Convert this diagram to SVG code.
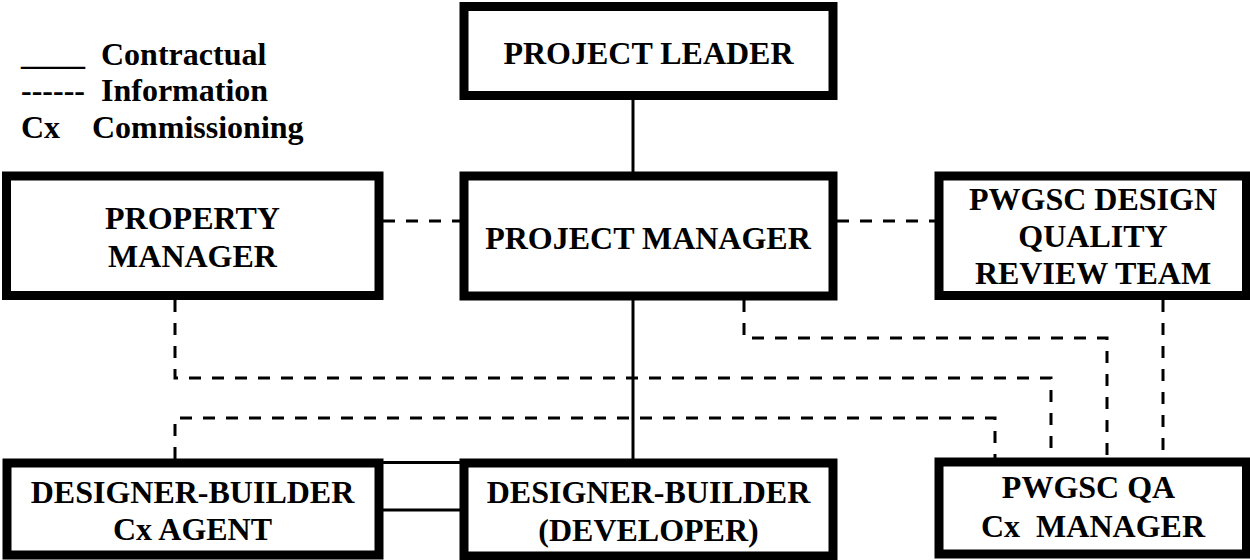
<svg xmlns="http://www.w3.org/2000/svg" width="1250" height="560" viewBox="0 0 1250 560">
<style>
.box{fill:#fff;stroke:#000;stroke-width:9}
.t{font-family:"Liberation Serif","Times New Roman",serif;font-weight:bold;font-size:32px;fill:#000}
.m{text-anchor:middle}
.solid{fill:none;stroke:#000;stroke-width:3}
.dash{fill:none;stroke:#000;stroke-width:3;stroke-dasharray:12 11}
</style>
<rect width="1250" height="560" fill="#fff"/>
<g id="legend">
<text class="t" x="21" y="65">____</text>
<text class="t" x="101" y="65">Contractual</text>
<text class="t" x="21" y="101">------</text>
<text class="t" x="101" y="101">Information</text>
<text class="t" x="21" y="138">Cx</text>
<text class="t" x="92" y="138">Commissioning</text>
</g>
<g id="connectors">
<line class="solid" x1="633" y1="99" x2="633" y2="172"/>
<line class="solid" x1="633" y1="300" x2="633" y2="459"/>
<line class="solid" x1="383" y1="462.5" x2="460" y2="462.5"/>
<line class="solid" x1="383" y1="510" x2="460" y2="510"/>
<line class="dash" x1="383" y1="221" x2="460" y2="221"/>
<line class="dash" x1="837" y1="221" x2="935" y2="221"/>
<line class="dash" x1="1163" y1="300" x2="1163" y2="458"/>
<polyline class="dash" points="744,300 744,338 1107,338 1107,458"/>
<polyline class="dash" points="175,300 175,378 1051,378 1051,458"/>
<polyline class="dash" points="175,459 175,418 995,418 995,458"/>
</g>
<g id="project-leader">
<rect class="box" x="464" y="6.5" width="369" height="89"/>
<text class="t m" x="648.5" y="63.5">PROJECT LEADER</text>
</g>
<g id="project-manager">
<rect class="box" x="464" y="176" width="369" height="120"/>
<text class="t m" x="648" y="248.5">PROJECT MANAGER</text>
</g>
<g id="property-manager">
<rect class="box" x="6.5" y="176" width="372.5" height="119.5"/>
<text class="t m" x="192.5" y="229">PROPERTY</text>
<text class="t m" x="192.5" y="267">MANAGER</text>
</g>
<g id="pwgsc-design">
<rect class="box" x="939" y="176" width="307.5" height="119.5"/>
<text class="t m" x="1093" y="210">PWGSC DESIGN</text>
<text class="t m" x="1093" y="247">QUALITY</text>
<text class="t m" x="1093" y="283.5">REVIEW TEAM</text>
</g>
<g id="db-cx-agent">
<rect class="box" x="7" y="463" width="372" height="92"/>
<text class="t m" x="192.5" y="503">DESIGNER-BUILDER</text>
<text class="t m" x="192.5" y="540">Cx AGENT</text>
</g>
<g id="developer">
<rect class="box" x="464" y="463" width="369" height="93"/>
<text class="t m" x="648.5" y="503">DESIGNER-BUILDER</text>
<text class="t m" x="648.5" y="540.5">(DEVELOPER)</text>
</g>
<g id="pwgsc-qa">
<rect class="box" x="939" y="462" width="307.5" height="92"/>
<text class="t m" x="1088.5" y="498">PWGSC QA</text>
<text class="t m" x="1093" y="536.5" xml:space="preserve">Cx  MANAGER</text>
</g>
</svg>
